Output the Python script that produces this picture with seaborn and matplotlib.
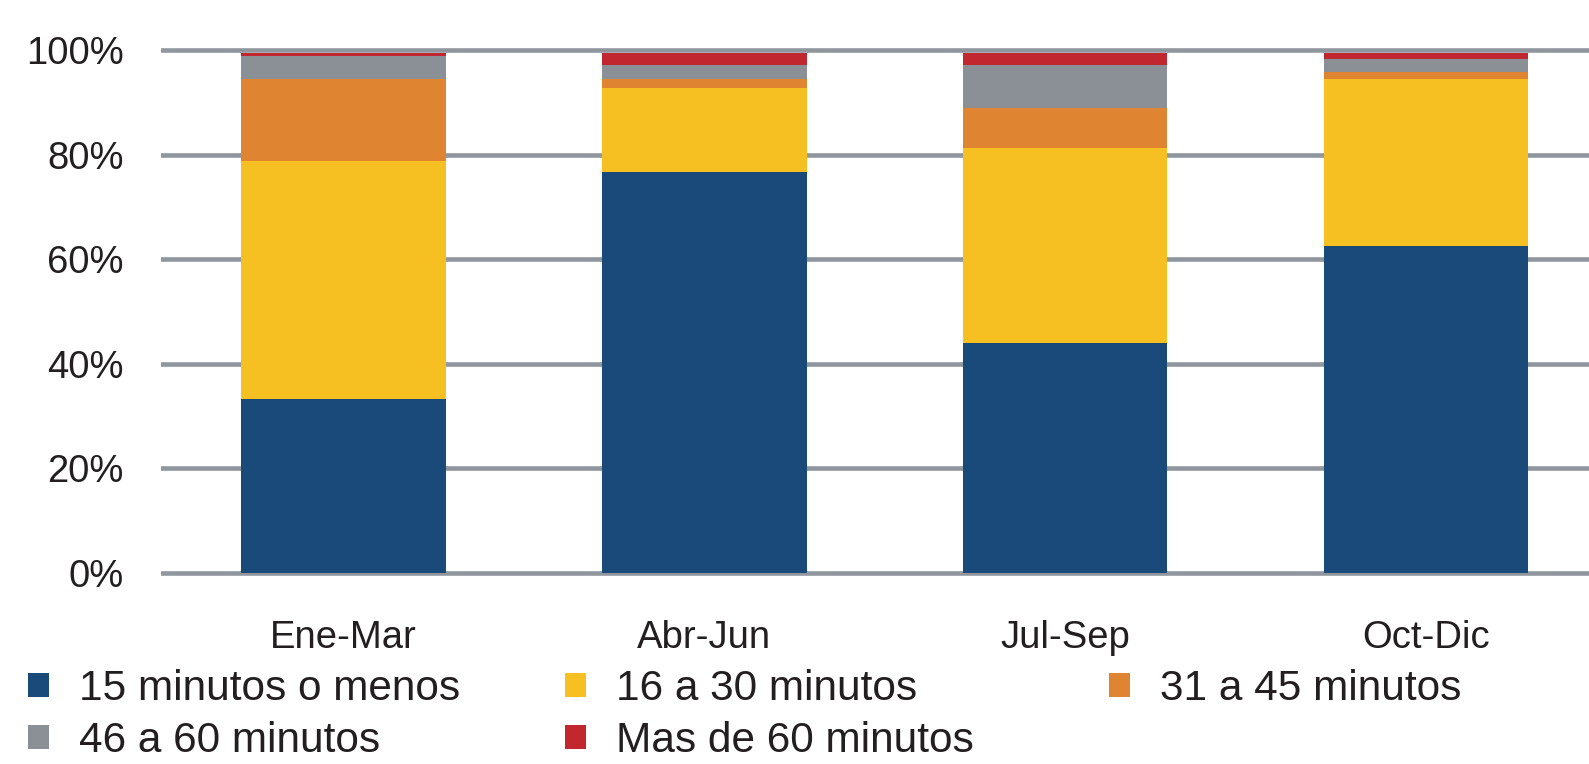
import numpy as np
import pandas as pd
import seaborn as sns
import matplotlib.pyplot as plt
from matplotlib.patches import Patch

# quarters on the x axis
quarters = ["Ene-Mar", "Abr-Jun", "Jul-Sep", "Oct-Dic"]

# share (%) of each waiting time band per quarter
menos_15 = [33.3, 76.7, 44.0, 62.5]
de_16_30 = [45.5, 16.0, 37.4, 32.0]
de_31_45 = [15.7, 1.8, 7.5, 1.3]
de_46_60 = [4.5, 2.6, 8.2, 2.5]
mas_60 = [0.5, 2.4, 2.4, 1.2]

series_names = ["15 minutos o menos", "16 a 30 minutos", "31 a 45 minutos",
                "46 a 60 minutos", "Mas de 60 minutos"]
series_colors = ["#1A4A7A", "#F6C022", "#DF8430", "#8A9096", "#C0272F"]

ytick_values = [0, 20, 40, 60, 80, 100]
ytick_labels = ["0%", "20%", "40%", "60%", "80%", "100%"]

text_color = "#231F20"
grid_color = "#8F969D"

sns.set_theme(style="white")
plt.rcParams['font.family'] = ['Liberation Sans', 'DejaVu Sans']

# long table, one row per quarter and band, plus the running total for stacking
values = [menos_15, de_16_30, de_31_45, de_46_60, mas_60]
df = pd.DataFrame({
    "quarter": np.repeat(quarters, len(series_names)),
    "band": series_names * len(quarters),
    "share": np.array(values).T.ravel(),
})
df["band"] = pd.Categorical(df["band"], categories=series_names, ordered=True)
df = df.sort_values(["quarter", "band"])
df["top"] = df.groupby("quarter", sort=False)["share"].cumsum()

fig = plt.figure(figsize=(15.89, 7.64), dpi=100)
ax = fig.add_axes([0.1013, 0.2432, 0.8987, 0.6978])

# draw the stack from the top band down so each bar covers the one above it
for name, color in reversed(list(zip(series_names, series_colors))):
    sub = df[df["band"] == name]
    sns.barplot(data=sub, x="quarter", y="top", order=quarters, color=color,
                saturation=1, width=0.567, errorbar=None, linewidth=0,
                ax=ax, zorder=2)

ax.set_xlim(-0.506, 3.452)
ax.set_ylim(-1, 101)
ax.set_yticks(ytick_values)
ax.set_yticklabels(ytick_labels)
ax.set_xlabel("")
ax.set_ylabel("")
ax.yaxis.grid(True, color=grid_color, linewidth=3.3)
ax.set_axisbelow(True)
for side in ["top", "right", "bottom", "left"]:
    ax.spines[side].set_visible(False)
ax.tick_params(axis="y", length=0, pad=27, labelsize=27.5, labelcolor=text_color)
ax.tick_params(axis="x", length=0, pad=30, labelsize=27.5, labelcolor=text_color)

# legend as three columns placed like the original
handles = [Patch(facecolor=c, edgecolor="none") for c in series_colors]
columns = [[0, 3], [1, 4], [2]]
col_x = [0.0177, 0.3554, 0.698]
for idx, x0 in zip(columns, col_x):
    fig.legend([handles[i] for i in idx], [series_names[i] for i in idx],
               loc="upper left", bbox_to_anchor=(x0, 0.124), frameon=False,
               fontsize=30.5, handlelength=0.5, handleheight=0.5,
               handletextpad=0.7, labelspacing=0.28, borderpad=0,
               borderaxespad=0, labelcolor=text_color)

fig.savefig("out.png", dpi=100)
plt.close(fig)
